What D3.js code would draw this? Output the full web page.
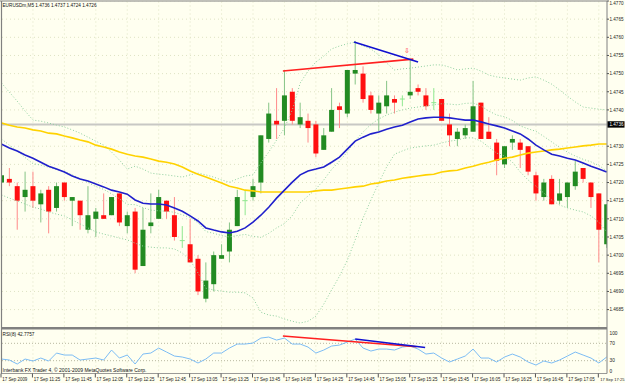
<!DOCTYPE html>
<html>
<head>
<meta charset="utf-8">
<script src="https://cdn.jsdelivr.net/npm/d3@7"></script>
<style>
  html, body { margin: 0; padding: 0; background: #fffff0; }
  svg { display: block; }
  text { font-family: "Liberation Sans", Arial, sans-serif; }
</style>
</head>
<body>
<svg id="chart"></svg>
<script>
// EURUSDm M5 bars, 17 Sep 2009 11:05 .. 17:25
const opens = [1.4720,1.4721,1.4719,1.4716,1.4719,1.4714,1.4718,1.4713,1.4720,1.4715,
  1.4715,1.4707,1.4710,1.4711,1.4711,1.4717,1.4708,1.4712,1.4697,1.4708,
  1.4710,1.4715,1.4711,1.4704,1.4703,1.4699,1.4688,1.4692,1.4699,1.4701,
  1.4708,1.4715,1.4716,1.4720,1.4732,1.4737,1.4737,1.4745,1.4736,1.4737,
  1.4736,1.4729,1.4734,1.4741,1.4739,1.4750,1.4750,1.4744,1.4739,1.4741,
  1.4743,1.4743,1.4744,1.4746,1.4744,1.4742,1.4743,1.4736,1.4732,1.4733,
  1.4734,1.4742,1.4734,1.4731,1.4725,1.4731,1.4731,1.4730,1.4722,1.4716,
  1.4721,1.4715,1.4716,1.4719,1.4724,1.4720,1.4717,1.4703];
const highs = [1.4724,1.4724,1.4720,1.4723,1.4723,1.4718,1.4719,1.4720,1.4720,1.4716,
  1.4715,1.4719,1.4713,1.4717,1.4716,1.4717,1.4712,1.4713,1.4713,1.4717,
  1.4718,1.4715,1.4716,1.4708,1.4710,1.4700,1.4698,1.4701,1.4703,1.4709,
  1.4718,1.4718,1.4721,1.4733,1.4742,1.4746,1.4751,1.4746,1.4742,1.4739,
  1.4737,1.4735,1.4746,1.4742,1.4751,1.4759,1.4752,1.4745,1.4744,1.4748,
  1.4744,1.4744,1.4754,1.4747,1.4746,1.4746,1.4743,1.4739,1.4735,1.4736,
  1.4748,1.4742,1.4738,1.4732,1.4730,1.4733,1.4732,1.4730,1.4723,1.4721,
  1.4722,1.4721,1.4720,1.4726,1.4724,1.4720,1.4717,1.4714];
const lows = [1.4718,1.4719,1.4707,1.4712,1.4713,1.4709,1.4706,1.4712,1.4715,1.4708,
  1.4707,1.4706,1.4705,1.4710,1.4711,1.4708,1.4706,1.4695,1.4697,1.4706,
  1.4710,1.4710,1.4704,1.4702,1.4698,1.4689,1.4687,1.4690,1.4699,1.4698,
  1.4708,1.4711,1.4715,1.4717,1.4731,1.4732,1.4733,1.4736,1.4735,1.4731,
  1.4727,1.4729,1.4734,1.4735,1.4738,1.4747,1.4742,1.4739,1.4734,1.4739,
  1.4739,1.4741,1.4743,1.4744,1.4740,1.4740,1.4737,1.4730,1.4730,1.4732,
  1.4734,1.4732,1.4732,1.4722,1.4724,1.4729,1.4724,1.4722,1.4715,1.4715,
  1.4714,1.4714,1.4713,1.4718,1.4720,1.4713,1.4698,1.4702];
const closes = [1.4722,1.4720,1.4715,1.4718,1.4715,1.4717,1.4712,1.4719,1.4716,1.4716,
  1.4711,1.4711,1.4712,1.4710,1.4716,1.4709,1.4711,1.4696,1.4707,1.4709,
  1.4716,1.4712,1.4705,1.4704,1.4698,1.4690,1.4693,1.4700,1.4700,1.4707,
  1.4716,1.4715,1.4719,1.4733,1.4739,1.4736,1.4744,1.4737,1.4738,1.4735,
  1.4728,1.4733,1.4740,1.4740,1.4751,1.4751,1.4743,1.4740,1.4742,1.4744,
  1.4742,1.4743,1.4745,1.4745,1.4741,1.4742,1.4737,1.4733,1.4734,1.4735,
  1.4741,1.4732,1.4732,1.4726,1.4730,1.4732,1.4729,1.4723,1.4717,1.4720,
  1.4714,1.4717,1.4720,1.4723,1.4721,1.4716,1.4707,1.4714];

// indicators, one value per bar
const bbUpper = [1.47474,1.47449,1.47424,1.47397,1.47372,1.47369,1.47364,1.47358,1.47353,1.47345,
  1.47336,1.47325,1.47314,1.47303,1.47284,1.47262,1.47237,1.47245,1.47237,1.47226,
  1.47223,1.47221,1.47218,1.47215,1.47221,1.47226,1.47221,1.47215,1.47207,1.47201,
  1.47210,1.47218,1.47221,1.47254,1.47284,1.47317,1.47350,1.47400,1.47474,1.47507,
  1.47532,1.47548,1.47568,1.47576,1.47582,1.47587,1.47576,1.47568,1.47551,1.47529,
  1.47510,1.47513,1.47515,1.47518,1.47521,1.47524,1.47524,1.47518,1.47510,1.47513,
  1.47515,1.47507,1.47496,1.47491,1.47488,1.47485,1.47482,1.47488,1.47491,1.47482,
  1.47471,1.47455,1.47438,1.47422,1.47408,1.47405,1.47402,1.47400];
const bbMiddle = [1.47320,1.47303,1.47287,1.47269,1.47252,1.47248,1.47242,1.47236,1.47231,1.47221,
  1.47211,1.47200,1.47189,1.47181,1.47169,1.47155,1.47140,1.47139,1.47131,1.47124,
  1.47122,1.47121,1.47118,1.47111,1.47104,1.47089,1.47065,1.47060,1.47054,1.47050,
  1.47054,1.47057,1.47052,1.47049,1.47060,1.47075,1.47087,1.47109,1.47144,1.47163,
  1.47182,1.47207,1.47236,1.47259,1.47284,1.47315,1.47339,1.47360,1.47375,1.47386,
  1.47394,1.47400,1.47405,1.47408,1.47411,1.47414,1.47417,1.47416,1.47414,1.47418,
  1.47419,1.47411,1.47397,1.47386,1.47381,1.47371,1.47356,1.47348,1.47341,1.47327,
  1.47312,1.47297,1.47284,1.47273,1.47264,1.47257,1.47247,1.47232];
const bbLower = [1.47166,1.47157,1.47149,1.47141,1.47132,1.47127,1.47119,1.47113,1.47108,1.47097,
  1.47086,1.47075,1.47064,1.47058,1.47053,1.47047,1.47042,1.47033,1.47025,1.47022,
  1.47020,1.47020,1.47017,1.47006,1.46986,1.46951,1.46909,1.46904,1.46901,1.46898,
  1.46898,1.46896,1.46882,1.46843,1.46835,1.46832,1.46824,1.46818,1.46813,1.46818,
  1.46832,1.46865,1.46904,1.46942,1.46986,1.47042,1.47102,1.47152,1.47199,1.47243,
  1.47278,1.47287,1.47295,1.47298,1.47301,1.47303,1.47309,1.47314,1.47317,1.47323,
  1.47323,1.47314,1.47298,1.47281,1.47273,1.47256,1.47229,1.47207,1.47190,1.47171,
  1.47152,1.47138,1.47130,1.47124,1.47119,1.47108,1.47091,1.47064];
const maBlue = [1.47306,1.47295,1.47287,1.47276,1.47267,1.47256,1.47245,1.47237,1.47229,1.47218,
  1.47210,1.47204,1.47196,1.47188,1.47179,1.47174,1.47168,1.47152,1.47143,1.47141,
  1.47141,1.47138,1.47130,1.47121,1.47108,1.47094,1.47075,1.47069,1.47064,1.47061,
  1.47066,1.47075,1.47091,1.47110,1.47132,1.47157,1.47179,1.47201,1.47221,1.47232,
  1.47237,1.47243,1.47256,1.47270,1.47292,1.47314,1.47325,1.47334,1.47339,1.47347,
  1.47353,1.47358,1.47367,1.47375,1.47378,1.47380,1.47380,1.47378,1.47375,1.47372,
  1.47372,1.47367,1.47361,1.47356,1.47350,1.47342,1.47334,1.47320,1.47303,1.47290,
  1.47278,1.47273,1.47267,1.47262,1.47254,1.47245,1.47237,1.47229];
const maYellow = [1.47364,1.47358,1.47353,1.47350,1.47345,1.47342,1.47336,1.47334,1.47328,1.47323,
  1.47317,1.47312,1.47303,1.47298,1.47292,1.47284,1.47278,1.47273,1.47270,1.47265,
  1.47259,1.47256,1.47251,1.47243,1.47232,1.47223,1.47215,1.47207,1.47199,1.47190,
  1.47185,1.47179,1.47177,1.47174,1.47174,1.47174,1.47174,1.47174,1.47174,1.47174,
  1.47177,1.47179,1.47179,1.47182,1.47185,1.47188,1.47190,1.47196,1.47199,1.47204,
  1.47207,1.47212,1.47215,1.47218,1.47221,1.47223,1.47229,1.47232,1.47234,1.47240,
  1.47245,1.47251,1.47256,1.47262,1.47267,1.47270,1.47276,1.47281,1.47284,1.47287,
  1.47290,1.47292,1.47295,1.47298,1.47301,1.47303,1.47306,1.47306];
const rsi = [33.8,31.5,22.3,33.8,29.2,36.1,29.2,47.6,43.0,43.0,
  31.5,33.8,36.1,31.5,54.5,36.1,43.0,22.3,45.3,47.6,
  59.1,49.9,40.7,38.4,33.8,24.6,33.8,47.6,47.6,59.1,
  68.3,68.3,70.6,82.1,84.4,77.5,82.1,68.3,68.3,61.4,
  47.6,54.5,63.7,66.0,72.9,79.8,59.1,52.2,56.8,56.8,
  54.5,61.4,63.7,56.8,45.3,47.6,36.1,26.9,33.8,40.7,
  56.8,36.1,36.1,26.9,38.4,45.3,38.4,26.9,20.0,29.2,
  24.6,31.5,40.7,49.9,43.0,36.1,24.6,38.4];

const priceTicks = [1.4770,1.4765,1.4760,1.4755,1.4750,1.4745,1.4740,1.4730,1.4725,
  1.4720,1.4715,1.4710,1.4705,1.4700,1.4695,1.4690,1.4685];
const rsiTicks = [100, 70, 30, 0];
const rsiLevels = [70, 30];
const timeLabels = ["17 Sep 2009","17 Sep 11:25","17 Sep 11:45","17 Sep 12:05","17 Sep 12:25",
  "17 Sep 12:45","17 Sep 13:05","17 Sep 13:25","17 Sep 13:45","17 Sep 14:05","17 Sep 14:25",
  "17 Sep 14:45","17 Sep 15:05","17 Sep 15:25","17 Sep 15:45","17 Sep 16:05","17 Sep 16:25",
  "17 Sep 16:45","17 Sep 17:05","17 Sep 17:25"];
const timeLabelBars = [0,4,8,12,16,20,24,28,32,36,40,44,48,52,56,60,64,68,72,76];
const bidPrice = 1.4736;
const titleText = "EURUSDm,M5  1.4736 1.4737 1.4724 1.4726";
const rsiTitle = "RSI(8) 42.7757";
const footerText = "Interbank FX Trader 4, \u00a9 2001-2009 MetaQuotes Software Corp.";

// hand-drawn trendlines: [bar, value] pairs
const priceTrends = [
  {from: [35.8, 1.47507], to: [52.4, 1.47540], color: "#ff2020"},
  {from: [44.85, 1.47587], to: [53.0, 1.47532], color: "#1010d0"}
];
const rsiTrends = [
  {from: [35.8, 86.7], to: [52.8, 62.1], color: "#ff2020"},
  {from: [45.0, 79.8], to: [53.9, 60.2], color: "#1010d0"}
];
const arrowMark = {bar: 51.6, price: 1.47565};

const W = 625, H = 383;
const plotL = 2, plotR = 607, mainTop = 1.5, mainBottom = 327, rsiTop = 329.5, rsiBottom = 373.5;

const svg = d3.select("#chart").attr("width", W).attr("height", H);
svg.append("rect").attr("width", W).attr("height", H).attr("fill", "#fffff0");

const x = d3.scaleLinear().domain([0, 77]).range([1.5, 606.7]);
const y = d3.scaleLinear().domain([1.4770, 1.4685]).range([1, 309.6]);
const yR = d3.scaleLinear().domain([100, 0]).range([330.3, 373.7]);

const defs = svg.append("defs");
defs.append("clipPath").attr("id", "mainClip").append("rect")
  .attr("x", plotL).attr("y", mainTop).attr("width", plotR - plotL).attr("height", mainBottom - mainTop);
defs.append("clipPath").attr("id", "rsiClip").append("rect")
  .attr("x", plotL).attr("y", rsiTop).attr("width", plotR - plotL).attr("height", rsiBottom - rsiTop);

const main = svg.append("g").attr("clip-path", "url(#mainClip)");
const sub = svg.append("g").attr("clip-path", "url(#rsiClip)");

//faint dotted grid
main.append("g").selectAll("line").data(priceTicks).join("line")
  .attr("x1", plotL).attr("x2", plotR)
  .attr("y1", d => y(d)).attr("y2", d => y(d))
  .attr("stroke", "#dfe3c4").attr("stroke-dasharray", "1,3");
main.append("g").selectAll("line").data(timeLabelBars.slice(1)).join("line")
  .attr("x1", d => x(d)).attr("x2", d => x(d))
  .attr("y1", mainTop).attr("y2", mainBottom)
  .attr("stroke", "#dfe3c4").attr("stroke-dasharray", "1,3");

//bid line
main.append("line")
  .attr("x1", plotL).attr("x2", plotR)
  .attr("y1", y(bidPrice)).attr("y2", y(bidPrice))
  .attr("stroke", "#c8c8c4").attr("stroke-width", 2);

//candles
const bars = d3.range(opens.length).map(i => ({i, o: opens[i], h: highs[i], l: lows[i], c: closes[i]}));
const candleG = main.append("g");
candleG.selectAll("line.wick").data(bars).join("line")
  .attr("class", "wick")
  .attr("x1", d => x(d.i)).attr("x2", d => x(d.i))
  .attr("y1", d => y(d.h)).attr("y2", d => y(d.l))
  .attr("stroke", d => d.c > d.o ? "#86c486" : (d.c < d.o ? "#ff8a8a" : "#8fe88f"))
  .attr("stroke-width", 1);
candleG.selectAll("rect").data(bars.filter(d => d.c !== d.o)).join("rect")
  .attr("x", d => x(d.i) - 2.5).attr("width", 5)
  .attr("y", d => y(Math.max(d.o, d.c)))
  .attr("height", d => Math.max(1, Math.abs(y(d.o) - y(d.c))))
  .attr("fill", d => d.c > d.o ? "#228b22" : "#ff1010");
candleG.selectAll("line.doji").data(bars.filter(d => d.c === d.o)).join("line")
  .attr("class", "doji")
  .attr("x1", d => x(d.i) - 2.5).attr("x2", d => x(d.i) + 2.5)
  .attr("y1", d => y(d.o)).attr("y2", d => y(d.o))
  .attr("stroke", "#8fe88f").attr("stroke-width", 1);

//indicator lines
const priceLine = d3.line().x((d, i) => x(i)).y(d => y(d));
[bbUpper, bbMiddle, bbLower].forEach(band => {
  main.append("path").attr("d", priceLine(band))
    .attr("fill", "none").attr("stroke", "#8fcf9f")
    .attr("stroke-width", 1).attr("stroke-dasharray", "1,2");
});
main.append("path").attr("d", priceLine(maYellow))
  .attr("fill", "none").attr("stroke", "#ffd200").attr("stroke-width", 1.6);
main.append("path").attr("d", priceLine(maBlue))
  .attr("fill", "none").attr("stroke", "#2020cc").attr("stroke-width", 1.6);

//trendlines and arrow
main.selectAll("line.trend").data(priceTrends).join("line")
  .attr("class", "trend")
  .attr("x1", d => x(d.from[0])).attr("y1", d => y(d.from[1]))
  .attr("x2", d => x(d.to[0])).attr("y2", d => y(d.to[1]))
  .attr("stroke", d => d.color).attr("stroke-width", 1.6);
main.append("text")
  .attr("x", x(arrowMark.bar)).attr("y", y(arrowMark.price) + 3)
  .attr("text-anchor", "middle").attr("font-size", 7).attr("fill", "#ff3030")
  .attr("font-family", "DejaVu Sans")
  .text("\u21e9");

//title
svg.append("text").attr("x", 2.5).attr("y", 7).attr("font-size", 5)
  .attr("textLength", 94).attr("lengthAdjust", "spacingAndGlyphs")
  .attr("fill", "#111").text(titleText);

//RSI panel
sub.append("g").selectAll("line").data(rsiLevels).join("line")
  .attr("x1", plotL).attr("x2", plotR)
  .attr("y1", d => yR(d)).attr("y2", d => yR(d))
  .attr("stroke", "#b8b8a0").attr("stroke-dasharray", "1,2");
sub.append("g").selectAll("line").data(timeLabelBars.slice(1)).join("line")
  .attr("x1", d => x(d)).attr("x2", d => x(d))
  .attr("y1", rsiTop).attr("y2", rsiBottom)
  .attr("stroke", "#dfe3c4").attr("stroke-dasharray", "1,3");
sub.append("path")
  .attr("d", d3.line().x((d, i) => x(i)).y(d => yR(d))(rsi))
  .attr("fill", "none").attr("stroke", "#7cbcf4").attr("stroke-width", 1);
sub.selectAll("line.trend").data(rsiTrends).join("line")
  .attr("class", "trend")
  .attr("x1", d => x(d.from[0])).attr("y1", d => yR(d.from[1]))
  .attr("x2", d => x(d.to[0])).attr("y2", d => yR(d.to[1]))
  .attr("stroke", d => d.color).attr("stroke-width", 1.6);
svg.append("text").attr("x", 2.5).attr("y", 336).attr("font-size", 5)
  .attr("textLength", 32).attr("lengthAdjust", "spacingAndGlyphs")
  .attr("fill", "#111").text(rsiTitle);
svg.append("text").attr("x", 2.5).attr("y", 371.8).attr("font-size", 5)
  .attr("textLength", 144).attr("lengthAdjust", "spacingAndGlyphs")
  .attr("fill", "#111").text(footerText);

//frame
const frame = svg.append("g").attr("stroke", "#808080");
frame.append("line").attr("x1", 0).attr("x2", plotR).attr("y1", 1).attr("y2", 1).attr("stroke-width", 1.2);
frame.append("line").attr("x1", 1.5).attr("x2", 1.5).attr("y1", 1).attr("y2", rsiBottom).attr("stroke-width", 1.2);
frame.append("line").attr("x1", plotR).attr("x2", plotR).attr("y1", 1).attr("y2", rsiBottom).attr("stroke-width", 1);
frame.append("line").attr("x1", 1).attr("x2", plotR).attr("y1", 328.2).attr("y2", 328.2).attr("stroke-width", 2.4);
frame.append("line").attr("x1", 1).attr("x2", plotR).attr("y1", rsiBottom).attr("y2", rsiBottom).attr("stroke-width", 0.8);

//price axis
const pAxis = svg.append("g");
pAxis.selectAll("line").data(priceTicks).join("line")
  .attr("x1", plotR).attr("x2", plotR + 2)
  .attr("y1", d => y(d)).attr("y2", d => y(d))
  .attr("stroke", "#555");
pAxis.selectAll("text").data(priceTicks).join("text")
  .attr("x", 609.5).attr("y", d => Math.max(y(d), 3) + 1.8)
  .attr("font-size", 4.8).attr("textLength", 14).attr("lengthAdjust", "spacingAndGlyphs")
  .attr("fill", "#222").text(d => d.toFixed(4));
pAxis.append("rect").attr("x", plotR + 0.5).attr("y", y(bidPrice) - 3.2)
  .attr("width", 17).attr("height", 6.4).attr("fill", "#000");
pAxis.append("text").attr("x", 609.5).attr("y", y(bidPrice) + 1.8)
  .attr("font-size", 4.8).attr("textLength", 14).attr("lengthAdjust", "spacingAndGlyphs")
  .attr("fill", "#fff").text(bidPrice.toFixed(4));

//rsi axis
svg.append("g").selectAll("text").data(rsiTicks).join("text")
  .attr("x", 609.5)
  .attr("y", d => Math.min(Math.max(yR(d), 332.7), 371.3) + 1.8)
  .attr("font-size", 4.8).attr("fill", "#222").text(d => d);

//time axis
const tAxis = svg.append("g");
const lastLabel = timeLabels.length - 1;
tAxis.selectAll("line").data(timeLabelBars).join("line")
  .attr("x1", d => x(d) - 0.5).attr("x2", d => x(d) - 0.5)
  .attr("y1", rsiBottom).attr("y2", rsiBottom + 4)
  .attr("stroke", "#555");
tAxis.selectAll("text").data(timeLabels).join("text")
  .attr("x", (d, i) => i === lastLabel ? 624.5 : x(timeLabelBars[i]) + 0.8)
  .attr("y", 380.5)
  .attr("text-anchor", (d, i) => i === lastLabel ? "end" : "start")
  .attr("font-size", (d, i) => i === lastLabel ? 4.1 : 4.6)
  .attr("textLength", (d, i) => i === lastLabel ? null : (i === 0 ? 25 : 26.5))
  .attr("lengthAdjust", "spacingAndGlyphs")
  .attr("fill", "#222").text(d => d);
</script>
</body>
</html>
